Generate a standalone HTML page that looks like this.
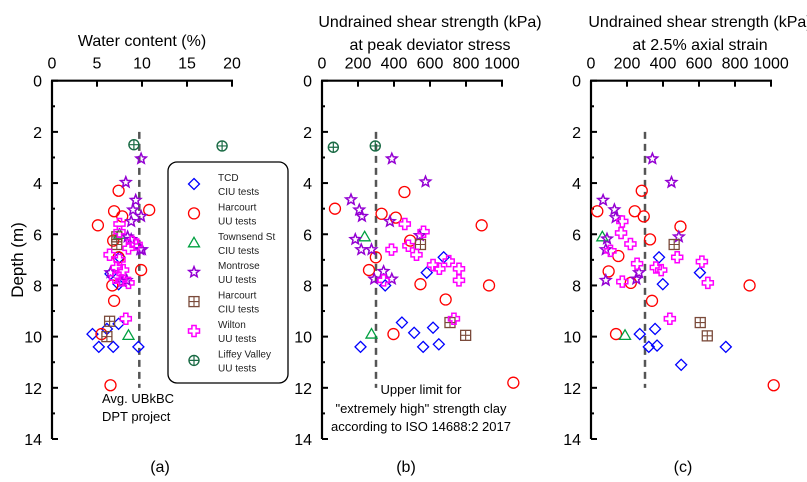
<!DOCTYPE html>
<html><head><meta charset="utf-8"><style>
html,body{margin:0;padding:0;background:#fff;}
svg{display:block;font-family:"Liberation Sans",sans-serif;}
</style></head><body>
<svg id="chart" width="807" height="482" viewBox="0 0 807 482"></svg>
<script>
// ---- data (a): water content %, depth m
const aTcdX=[4.5,5.2,6.1,6.8,7.4,6.5,7.5,7.4,9.6];
const aTcdY=[9.9,10.4,9.7,10.4,9.5,7.55,6.9,7.95,10.4];
const aHuuX=[7.4,6.9,7.8,5.1,10.8,6.8,7.4,9.9,6.7,6.9,5.5,6.5];
const aHuuY=[4.3,5.1,5.3,5.65,5.05,6.25,6.9,7.4,8.0,8.6,9.9,11.9];
const aTowX=[7.5,8.5];
const aTowY=[6.0,9.95];
const aMonX=[9.9,8.2,9.3,9.0,9.9,8.8,8.4,8.8,9.8,10.0,6.5,7.8,8.3];
const aMonY=[3.05,3.97,4.67,5.05,5.3,5.5,6.1,6.2,6.6,6.6,7.5,7.85,7.8];
const aHciX=[7.2,7.2,6.4,6.1];
const aHciY=[6.1,6.4,9.4,10.0];
const aWilX=[7.5,7.5,8.9,8.5,9.4,6.4,7.5,7.2,7.9,7.0,7.7,8.5,8.2];
const aWilY=[5.6,5.9,6.3,6.55,6.4,6.8,7.0,7.3,7.4,7.7,7.8,7.9,9.3];
const aLifX=[9.1,18.9];
const aLifY=[2.5,2.55];
// ---- data (b): peak undrained strength kPa
const bTcdX=[214,351,444,512,562,582,617,649,676];
const bTcdY=[10.4,8.0,9.45,9.85,10.4,7.5,9.65,10.3,6.9];
const bHuuX=[72,331,410,458,490,299,261,547,687,397,887,928,1063];
const bHuuY=[5.0,5.2,5.35,4.35,6.25,6.9,7.4,7.95,8.55,9.9,5.65,8.0,11.8];
const bTowX=[237,275];
const bTowY=[6.1,9.9];
const bMonX=[388,575,161,207,222,377,185,218,275,543,342,290,388];
const bMonY=[3.05,3.95,4.65,5.05,5.3,5.5,6.2,6.6,6.6,6.05,7.45,7.75,7.75];
const bHciX=[547,711,798];
const bHciY=[6.4,9.45,9.95];
const bWilX=[460,564,480,386,525,617,652,704,761,761,342,733];
const bWilY=[5.6,5.9,6.45,6.6,6.8,7.2,7.35,7.05,7.35,7.8,7.8,9.3];
const bLifX=[63,296];
const bLifY=[2.6,2.55];
// ---- data (c): strength at 2.5% axial strain kPa
const cTcdX=[271,321,356,367,378,399,501,605,749];
const cTcdY=[9.9,10.4,9.7,10.35,6.9,7.95,11.1,7.5,10.4];
const cHuuX=[35,243,282,293,328,152,98,221,339,139,497,881,1015];
const cHuuY=[5.1,5.1,4.3,5.3,6.2,6.85,7.45,7.9,8.6,9.9,5.7,8.0,11.9];
const cTowX=[63,189];
const cTowY=[6.1,9.95];
const cMonX=[341,447,67,130,137,89,82,488,267,252,82];
const cMonY=[3.05,3.97,4.67,5.04,5.35,6.18,6.6,6.1,7.5,7.75,7.8];
const cHciX=[462,607,646];
const cHciY=[6.4,9.45,9.97];
const cWilX=[174,167,219,108,256,360,390,479,616,649,174,438];
const cWilY=[5.5,5.95,6.38,6.65,7.15,7.3,7.4,6.9,7.07,7.9,7.85,9.3];
const aTicks=[0,5,10,15,20];
const sTicks=[0,200,400,600,800,1000];
const depthTicks=[0,2,4,6,8,10,12,14];
const legendNames=[["TCD","CIU tests"],["Harcourt","UU tests"],["Townsend St","CIU tests"],["Montrose","UU tests"],["Harcourt","CIU tests"],["Wilton","UU tests"],["Liffey Valley","UU tests"]];

const NS="http://www.w3.org/2000/svg";
const svg=document.getElementById('chart');
function mk(tag,attrs,parent){const e=document.createElementNS(NS,tag);for(const k in attrs)e.setAttribute(k,attrs[k]);(parent||svg).appendChild(e);return e;}
const Y0=80.7,Y1=439;
function yS(d){return Y0+(Y1-Y0)*d/14;}
const COL={tcd:"#0000ff",huu:"#ff0000",tow:"#00a040",mon:"#9400d3",hci:"#7a4a3a",wil:"#ff00ff",lif:"#1a6b45"};
function marker(type,cx,cy,g){
  const c=COL[type];let e;
  if(type==='tcd'){e=mk('polygon',{points:`${cx},${cy-5.5} ${cx+5.5},${cy} ${cx},${cy+5.5} ${cx-5.5},${cy}`,fill:'none',stroke:c,'stroke-width':1.3},g);}
  else if(type==='huu'){e=mk('circle',{cx:cx,cy:cy,r:5.5,fill:'none',stroke:c,'stroke-width':1.3},g);}
  else if(type==='tow'){e=mk('polygon',{points:`${cx},${cy-5.5} ${cx+5.5},${cy+4} ${cx-5.5},${cy+4}`,fill:'none',stroke:c,'stroke-width':1.3},g);}
  else if(type==='mon'){let p=[];for(let i=0;i<10;i++){const r=i%2?2.4:5.5;const a=-Math.PI/2+i*Math.PI/5;p.push((cx+r*Math.cos(a)).toFixed(1)+','+(cy+r*Math.sin(a)).toFixed(1));}
    e=mk('polygon',{points:p.join(' '),fill:'none',stroke:c,'stroke-width':1.5},g);}
  else if(type==='hci'){e=mk('g',{},g);mk('rect',{x:cx-5,y:cy-5,width:10,height:10,fill:'none',stroke:c,'stroke-width':1.3},e);
    mk('path',{d:`M${cx-5},${cy}H${cx+5}M${cx},${cy-5}V${cy+5}`,stroke:c,'stroke-width':1.1},e);}
  else if(type==='wil'){const a=2.1,b=5.5;e=mk('polygon',{points:`${cx-a},${cy-b} ${cx+a},${cy-b} ${cx+a},${cy-a} ${cx+b},${cy-a} ${cx+b},${cy+a} ${cx+a},${cy+a} ${cx+a},${cy+b} ${cx-a},${cy+b} ${cx-a},${cy+a} ${cx-b},${cy+a} ${cx-b},${cy-a} ${cx-a},${cy-a}`,fill:'none',stroke:c,'stroke-width':1.5},g);}
  else if(type==='lif'){e=mk('g',{},g);mk('circle',{cx:cx,cy:cy,r:5,fill:'none',stroke:c,'stroke-width':1.4},e);
    mk('path',{d:`M${cx-5},${cy}H${cx+5}M${cx},${cy-5}V${cy+5}`,stroke:c,'stroke-width':1.2},e);}
  return e;
}
function panel(name,x0,x1,maxV,ticks,series,dashV,labelTxt,labelX){
  const g=mk('g',{});
  
  
  const xS=v=>x0+(x1-x0)*v/maxV;
  const ya=mk('line',{x1:x0,y1:Y0,x2:x0,y2:Y1,stroke:'#000','stroke-width':2.2},g);
  
  
  const xa=mk('line',{x1:x0-1,y1:Y0,x2:x1+1,y2:Y0,stroke:'#000','stroke-width':2.2},g);
  
  
  for(let d=0;d<=14;d++){mk('line',{x1:x0,y1:yS(d),x2:x0+(d%2?3:6),y2:yS(d),stroke:'#000','stroke-width':2},g);}
  depthTicks.forEach(d=>{const t=mk('text',{x:x0-10,y:yS(d)+6,'text-anchor':'end','font-size':16,fill:'#000'},g);t.textContent=d;
    
    });
  ticks.forEach(v=>{mk('line',{x1:xS(v),y1:Y0,x2:xS(v),y2:Y0+6,stroke:'#000','stroke-width':2},g);
    const t=mk('text',{x:xS(v),y:Y0-12,'text-anchor':'middle','font-size':16,fill:'#000'},g);t.textContent=v;
    
    });
  const dl=mk('line',{x1:xS(dashV),y1:yS(2),x2:xS(dashV),y2:yS(12),stroke:'#555','stroke-width':2.5,'stroke-dasharray':'7,5'},g);
  
  
  series.forEach(s=>{s[1].forEach((v,i)=>{const m=marker(s[0],xS(v),yS(s[2][i]),g);
    
    });});
  const lt=mk('text',{x:labelX,y:472,'text-anchor':'middle','font-size':16,fill:'#000'},g);lt.textContent=labelTxt;
  
  
}
panel('panel-a',52,232,20,aTicks,[['tcd',aTcdX,aTcdY],['huu',aHuuX,aHuuY],['tow',aTowX,aTowY],['mon',aMonX,aMonY],['hci',aHciX,aHciY],['wil',aWilX,aWilY],['lif',aLifX,aLifY]],9.7,'(a)',160);
panel('panel-b',322,502,1000,sTicks,[['tcd',bTcdX,bTcdY],['huu',bHuuX,bHuuY],['tow',bTowX,bTowY],['mon',bMonX,bMonY],['hci',bHciX,bHciY],['wil',bWilX,bWilY],['lif',bLifX,bLifY]],300,'(b)',406);
panel('panel-c',591,771,1000,sTicks,[['tcd',cTcdX,cTcdY],['huu',cHuuX,cHuuY],['tow',cTowX,cTowY],['mon',cMonX,cMonY],['hci',cHciX,cHciY],['wil',cWilX,cWilY]],300,'(c)',683);

const lg=mk('g',{});


mk('rect',{x:168,y:162,width:120,height:221,rx:9,fill:'#fff',stroke:'#000','stroke-width':1.3},lg);
const types=['tcd','huu','tow','mon','hci','wil','lif'];
types.forEach((t,i)=>{const y=184+i*29.4;
  const eg=mk('g',{},lg);
  
  
  marker(t,194,y,eg);
  const t1=mk('text',{x:218,y:y-3,'font-size':10,fill:'#222'},eg);t1.textContent=legendNames[i][0];
  const t2=mk('text',{x:218,y:y+11,'font-size':10,fill:'#222'},eg);t2.textContent=legendNames[i][1];
});
</script>
<div style="position:absolute;left:0;top:0;width:807px;height:482px;pointer-events:none;font-family:'Liberation Sans',sans-serif;color:#000;">
  <div style="position:absolute;left:-42px;top:250px;width:120px;text-align:center;font-size:17px;transform:rotate(-90deg);">Depth (m)</div>
  <div style="position:absolute;left:42px;top:33px;width:200px;text-align:center;font-size:16px;">Water content (%)</div>
  <div style="position:absolute;left:300px;top:11px;width:260px;text-align:center;font-size:16px;line-height:23px;">Undrained shear strength (kPa)<br>at peak deviator stress</div>
  <div style="position:absolute;left:570px;top:11px;width:260px;text-align:center;font-size:16px;line-height:23px;">Undrained shear strength (kPa)<br>at 2.5% axial strain</div>
  <div style="position:absolute;left:102px;top:390px;font-size:13px;line-height:18px;">Avg. UBkBC<br>DPT project</div>
  <div style="position:absolute;left:321px;top:381px;width:200px;text-align:center;font-size:13px;line-height:18.5px;">Upper limit for<br>"extremely high" strength clay<br>according to ISO 14688:2 2017</div>
</div>
</body></html>
